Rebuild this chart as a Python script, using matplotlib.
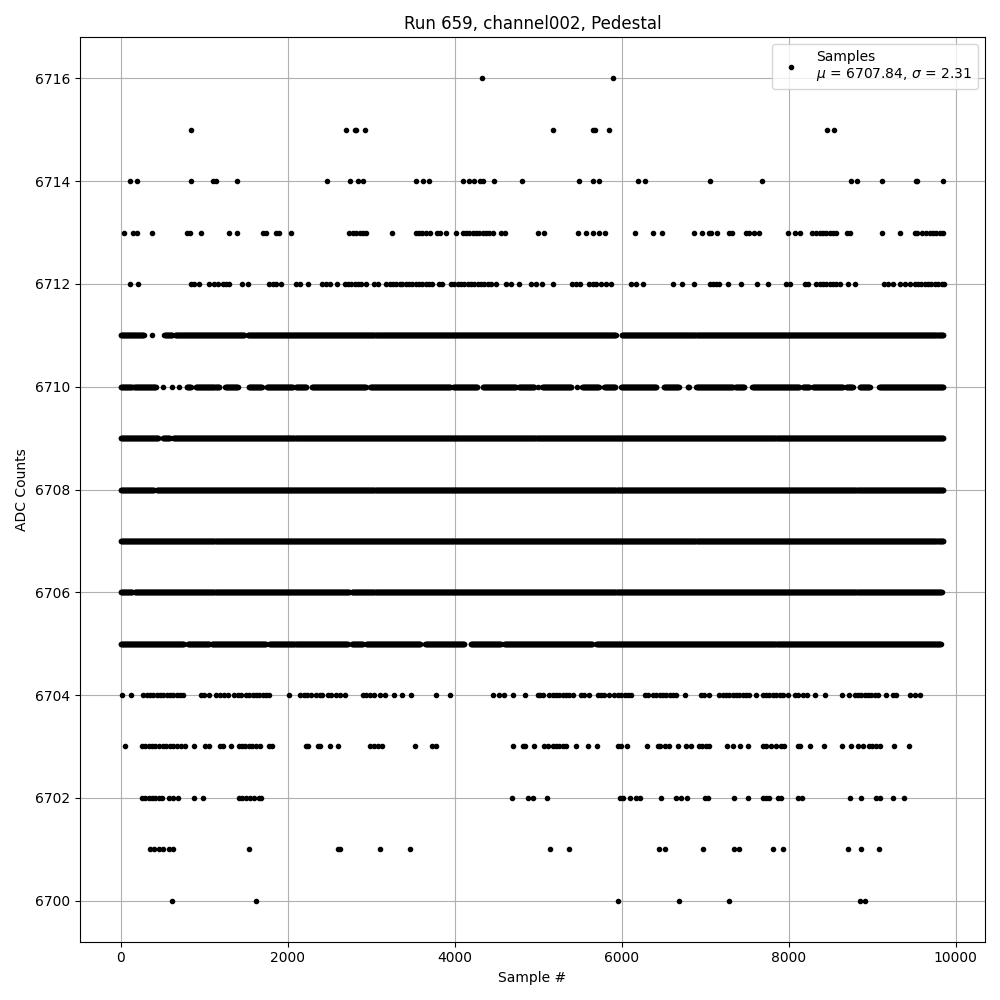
import numpy as np
import matplotlib
matplotlib.use("Agg")
import matplotlib.pyplot as plt

title = "Run 659, channel002, Pedestal"
legend_label = "Samples\n$\\mu$ = 6707.84, $\\sigma$ = 2.31"

# Sparse ADC levels: sample numbers
level_6716 = [4330, 5890]
level_6715 = [836, 2696, 2800, 2816, 2924, 5172, 5660, 5676, 5844, 8456, 8540]
level_6714 = [116, 188, 836, 1100, 1140, 1388, 2468, 2744, 2840, 2900, 3540, 3620, 3692,
              4100, 4172, 4232, 4300, 4340, 4464, 4800, 5484, 5660, 5732, 6192, 6276,
              7052, 7676, 8748, 8816, 9120, 9520, 9536, 9848]
level_6713 = [44, 144, 188, 368, 792, 828, 964, 1292, 1388, 1700, 1740, 1860, 1900, 2036,
              2732, 2780, 2820, 2860, 2900, 2940, 3248,
              3532, 3572, 3612, 3652, 3700, 3792, 3820, 3892, 4008, 4092, 4132, 4172, 4212,
              4252, 4292, 4332, 4372, 4412, 4460, 4552, 4600, 4992, 5072, 5472, 5572, 5660,
              5724, 5796, 6156, 6372, 6480,
              6860, 6956, 7048, 7068, 7136, 7288, 7320, 7488, 7528, 7588, 7640, 7988, 8068,
              8128, 8280, 8328, 8368, 8408, 8448, 8488, 8528, 8568, 8696, 8736, 9120, 9328,
              9512, 9536, 9600, 9648, 9688, 9728, 9768, 9808, 9848]
level_6712 = [116, 200, 840, 880, 932, 1060, 1120, 1160, 1228, 1260, 1292, 1448, 1520, 1780,
              1820, 1860, 1920, 2100, 2140, 2240, 2412, 2460, 2500, 2588, 2680, 2720, 2760,
              2800, 2840, 2880, 2940, 3028, 3080, 3172, 3220, 3260, 3300, 3340,
              3372, 3412, 3452, 3492, 3532, 3572, 3612, 3652, 3692, 3732, 3812, 3852, 3952,
              3992, 4032, 4072, 4112, 4152, 4192, 4232, 4272, 4312, 4352, 4392, 4432, 4492,
              4612, 4672, 4772, 4912, 4972, 5040, 5172, 5404, 5452, 5500, 5604, 5652, 5692,
              5752, 5812, 5872, 6112, 6172, 6252, 6612, 6724,
              6860, 7056, 7088, 7128, 7168, 7268, 7424, 7616, 7748, 7960, 8008, 8188, 8228,
              8328, 8368, 8408, 8448, 8488, 8528, 8568, 8608, 8708, 8788, 9136, 9188, 9248,
              9328, 9388, 9448, 9508, 9548, 9588, 9628, 9668, 9708, 9748, 9788, 9828, 9856]
level_6704 = [20, 128, 268, 308, 348, 388, 428, 468, 508, 548, 588, 628, 668, 708, 748, 960,
              1000, 1060, 1140, 1188, 1240, 1280, 1360, 1400, 1440, 1500, 1540, 1580, 1620,
              1660, 1700, 1740, 1780, 2020, 2148, 2188, 2228, 2280, 2332, 2380, 2412, 2480,
              2520, 2580, 2628, 2688, 2900, 2940, 2988, 3028, 3100, 3168, 3276,
              3372, 3480, 3772, 3948, 4452, 4532, 4592, 4692, 4844, 4992, 5020, 5060, 5132,
              5172, 5212, 5252, 5292, 5332, 5372, 5412, 5512, 5552, 5612, 5712, 5752, 5792,
              5852, 5912, 5952, 5992, 6032, 6072, 6112, 6272, 6312, 6372, 6412, 6452, 6492,
              6532, 6572, 6612, 6652, 6752,
              6948, 6988, 7048, 7168, 7208, 7248, 7288, 7328, 7368, 7408, 7448, 7488, 7528,
              7608, 7688, 7728, 7768, 7808, 7848, 7888, 7928, 7988, 8068, 8108, 8168, 8216,
              8308, 8432, 8640, 8720, 8788, 8828, 8868, 8908, 8948, 8988, 9028, 9068, 9168,
              9248, 9280, 9448, 9508, 9568]
level_6703 = [52, 252, 292, 332, 372, 412, 452, 500, 540, 588, 628, 668, 720, 772, 872, 1012,
              1060, 1188, 1220, 1320, 1412, 1452, 1492, 1532, 1572, 1620, 1668, 1772, 1812,
              2220, 2240, 2360, 2388, 2500, 2600, 2980, 3028, 3080, 3132,
              3524, 3732, 3772, 4692, 4812, 4840, 4944, 5072, 5112, 5172, 5212, 5252, 5292,
              5332, 5452, 5592, 5700, 5952, 5992, 6060, 6304, 6432, 6460, 6512, 6564, 6672,
              6772, 6828, 6920, 6960, 7008, 7040, 7256, 7336, 7416, 7516, 7688, 7728, 7788,
              7848, 7908, 7936, 8108, 8136, 8256, 8416, 8640, 8748, 8828, 8888, 8960, 9000,
              9048, 9088, 9260, 9440]
level_6702 = [252, 292, 332, 372, 412, 452, 492, 580, 620, 680, 872, 980, 1412, 1452, 1500,
              1548, 1600, 1652, 1680, 4680, 4872, 4940, 5100, 5972, 6012, 6100, 6172, 6212,
              6472, 6652, 6712, 6780, 7000, 7028, 7340, 7508, 7688, 7728, 7768, 7868, 7908,
              8108, 8160, 8728, 8868, 9040, 9088, 9248, 9380]
level_6701 = [348, 400, 452, 500, 580, 628, 1532, 2600, 2620, 3108, 3468, 5140, 5364, 6444,
              6516, 6976, 7348, 7408, 7808, 7928, 8708, 8860, 9080]
level_6700 = [612, 1620, 5952, 6688, 7288, 8848, 8908]

# Dense ADC levels: runs of consecutive samples (first, last)
runs_6711 = [(0, 280), (368, 368), (520, 620), (652, 1480), (1520, 5930), (6000, 9850)]
runs_6710 = [(0, 132), (152, 420), (500, 500), (612, 612), (700, 700), (788, 840),
             (900, 1180), (1248, 1400), (1532, 1692), (1748, 2060), (2092, 2220),
             (2288, 2940), (2988, 3952), (3980, 4272), (4332, 4732), (4764, 4952),
             (5000, 5000), (5044, 5392), (5460, 5460), (5524, 5724), (5792, 5924),
             (5992, 6412), (6500, 6684), (6792, 6808), (6888, 7330), (7360, 7470),
             (7560, 8128), (8168, 8248), (8288, 8648), (8688, 8768), (8848, 8968),
             (9080, 9850)]
runs_6709 = [(0, 452), (500, 588), (628, 9850)]
runs_6708 = [(0, 400), (428, 9850)]
runs_6707 = [(0, 9850)]
runs_6706 = [(0, 140), (168, 2740), (2768, 9830)]
runs_6705 = [(0, 760), (800, 1060), (1088, 1740), (1780, 2720), (2768, 2900),
             (2940, 3592), (3644, 4112), (4192, 4552), (4592, 5652), (5692, 9820)]

sparse = {6716: level_6716, 6715: level_6715, 6714: level_6714, 6713: level_6713,
          6712: level_6712, 6704: level_6704, 6703: level_6703, 6702: level_6702,
          6701: level_6701, 6700: level_6700}
dense = {6711: runs_6711, 6710: runs_6710, 6709: runs_6709, 6708: runs_6708,
         6707: runs_6707, 6706: runs_6706, 6705: runs_6705}

xs, ys = [], []
for lvl, pts in sparse.items():
    xs.extend(pts)
    ys.extend([lvl] * len(pts))
for lvl, runs in dense.items():
    for a, b in runs:
        seg = np.arange(a, b + 1, 6)
        xs.extend(seg.tolist())
        ys.extend([lvl] * len(seg))

order = np.argsort(xs, kind="stable")
xs = np.asarray(xs)[order]
ys = np.asarray(ys)[order]

fig, ax = plt.subplots(figsize=(10, 10), dpi=100)
ax.plot(xs, ys, '.', color='black', linestyle='none', label=legend_label)
ax.set_title(title)
ax.set_xlabel("Sample #")
ax.set_ylabel("ADC Counts")
ax.grid(True)
ax.legend(loc="upper right")
fig.tight_layout()
fig.savefig("out.png", dpi=100)
